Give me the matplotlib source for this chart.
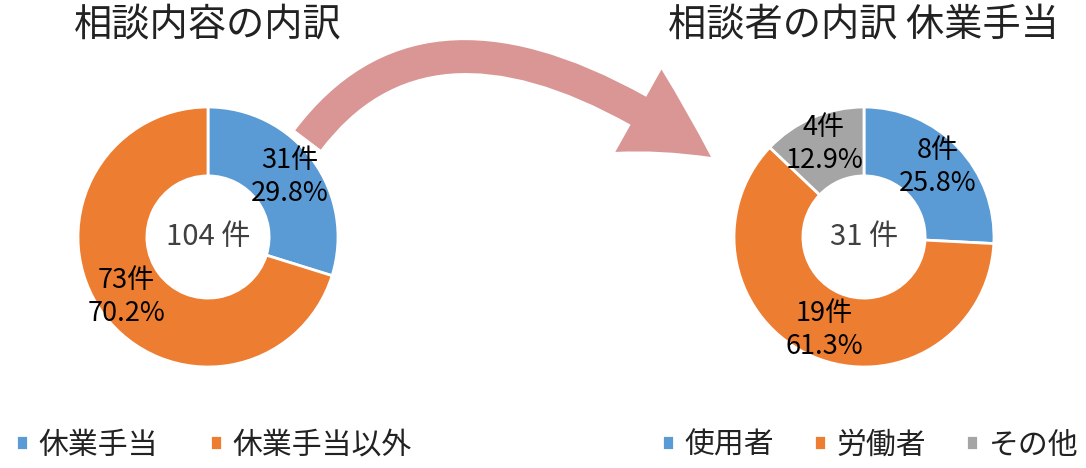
import matplotlib
matplotlib.use("Agg")
import matplotlib.pyplot as plt
from matplotlib.patches import FancyArrowPatch, ArrowStyle
from matplotlib.path import Path

plt.rcParams["font.family"] = ["Noto Sans CJK JP", "DejaVu Sans"]

# DATA
LEFT_TITLE = "相談内容の内訳"
LEFT_LABELS = ["休業手当", "休業手当以外"]
LEFT_COUNTS = [31, 73]
LEFT_TOTAL = "104 件"

RIGHT_TITLE = "相談者の内訳 休業手当"
RIGHT_LABELS = ["使用者", "労働者", "その他"]
RIGHT_COUNTS = [8, 19, 4]
RIGHT_TOTAL = "31 件"

COLORS = ["#5B9BD5", "#ED7D31", "#A5A5A5"]
W, H = 1086, 468


def px(x, y):
    """pixel position (top-left origin) -> figure fraction"""
    return x / W, 1 - y / H


def donut(fig, cx, title, labels, counts, total, leg_x, colspace):
    r = 130
    ax = fig.add_axes([(cx - r) / W, (H - 237 - r) / H, 2 * r / W, 2 * r / H])
    tot = sum(counts)
    wedges, texts, autotexts = ax.pie(
        counts,
        colors=COLORS[: len(counts)],
        startangle=90,
        counterclock=False,
        radius=1,
        wedgeprops=dict(width=0.53, edgecolor="white", linewidth=2),
        autopct=lambda p: f"{round(p * tot / 100)}件\n{p:.1f}%",
        pctdistance=0.78,
        textprops=dict(fontsize=19.5, color="black", linespacing=1.3),
    )
    ax.set_xlim(-1, 1)
    ax.set_ylim(-1, 1)
    ax.text(0, 0, total, ha="center", va="center", fontsize=21, color="#404040")
    fig.text(*px(cx, 25), title, ha="center", va="center", fontsize=27.5, color="#222222")
    fig.legend(
        wedges, labels, loc="center", bbox_to_anchor=px(leg_x, 445), ncol=len(labels),
        frameon=False, fontsize=21.5, handlelength=0.4, handleheight=0.4,
        handletextpad=0.35, columnspacing=colspace, labelcolor="#222222",
    )
    return ax


fig = plt.figure(figsize=(W / 100, H / 100), dpi=100)
donut(fig, 208, LEFT_TITLE, LEFT_LABELS, LEFT_COUNTS, LEFT_TOTAL, 214, 1.75)
donut(fig, 864, RIGHT_TITLE, RIGHT_LABELS, RIGHT_COUNTS, RIGHT_TOTAL, 870, 1.35)

# curved arrow between the two charts (quadratic bezier)
verts = [px(308, 140), px(440, -35), px(711, 157)]
path = Path(verts, [Path.MOVETO, Path.CURVE3, Path.CURVE3])
arrow = FancyArrowPatch(
    path=path,
    arrowstyle=ArrowStyle("Simple", head_length=62, head_width=68, tail_width=23),
    mutation_scale=1,
    transform=fig.transFigure,
    color="#D99694",
    linewidth=0,
)
fig.patches.append(arrow)

fig.savefig("out.png", dpi=100)
